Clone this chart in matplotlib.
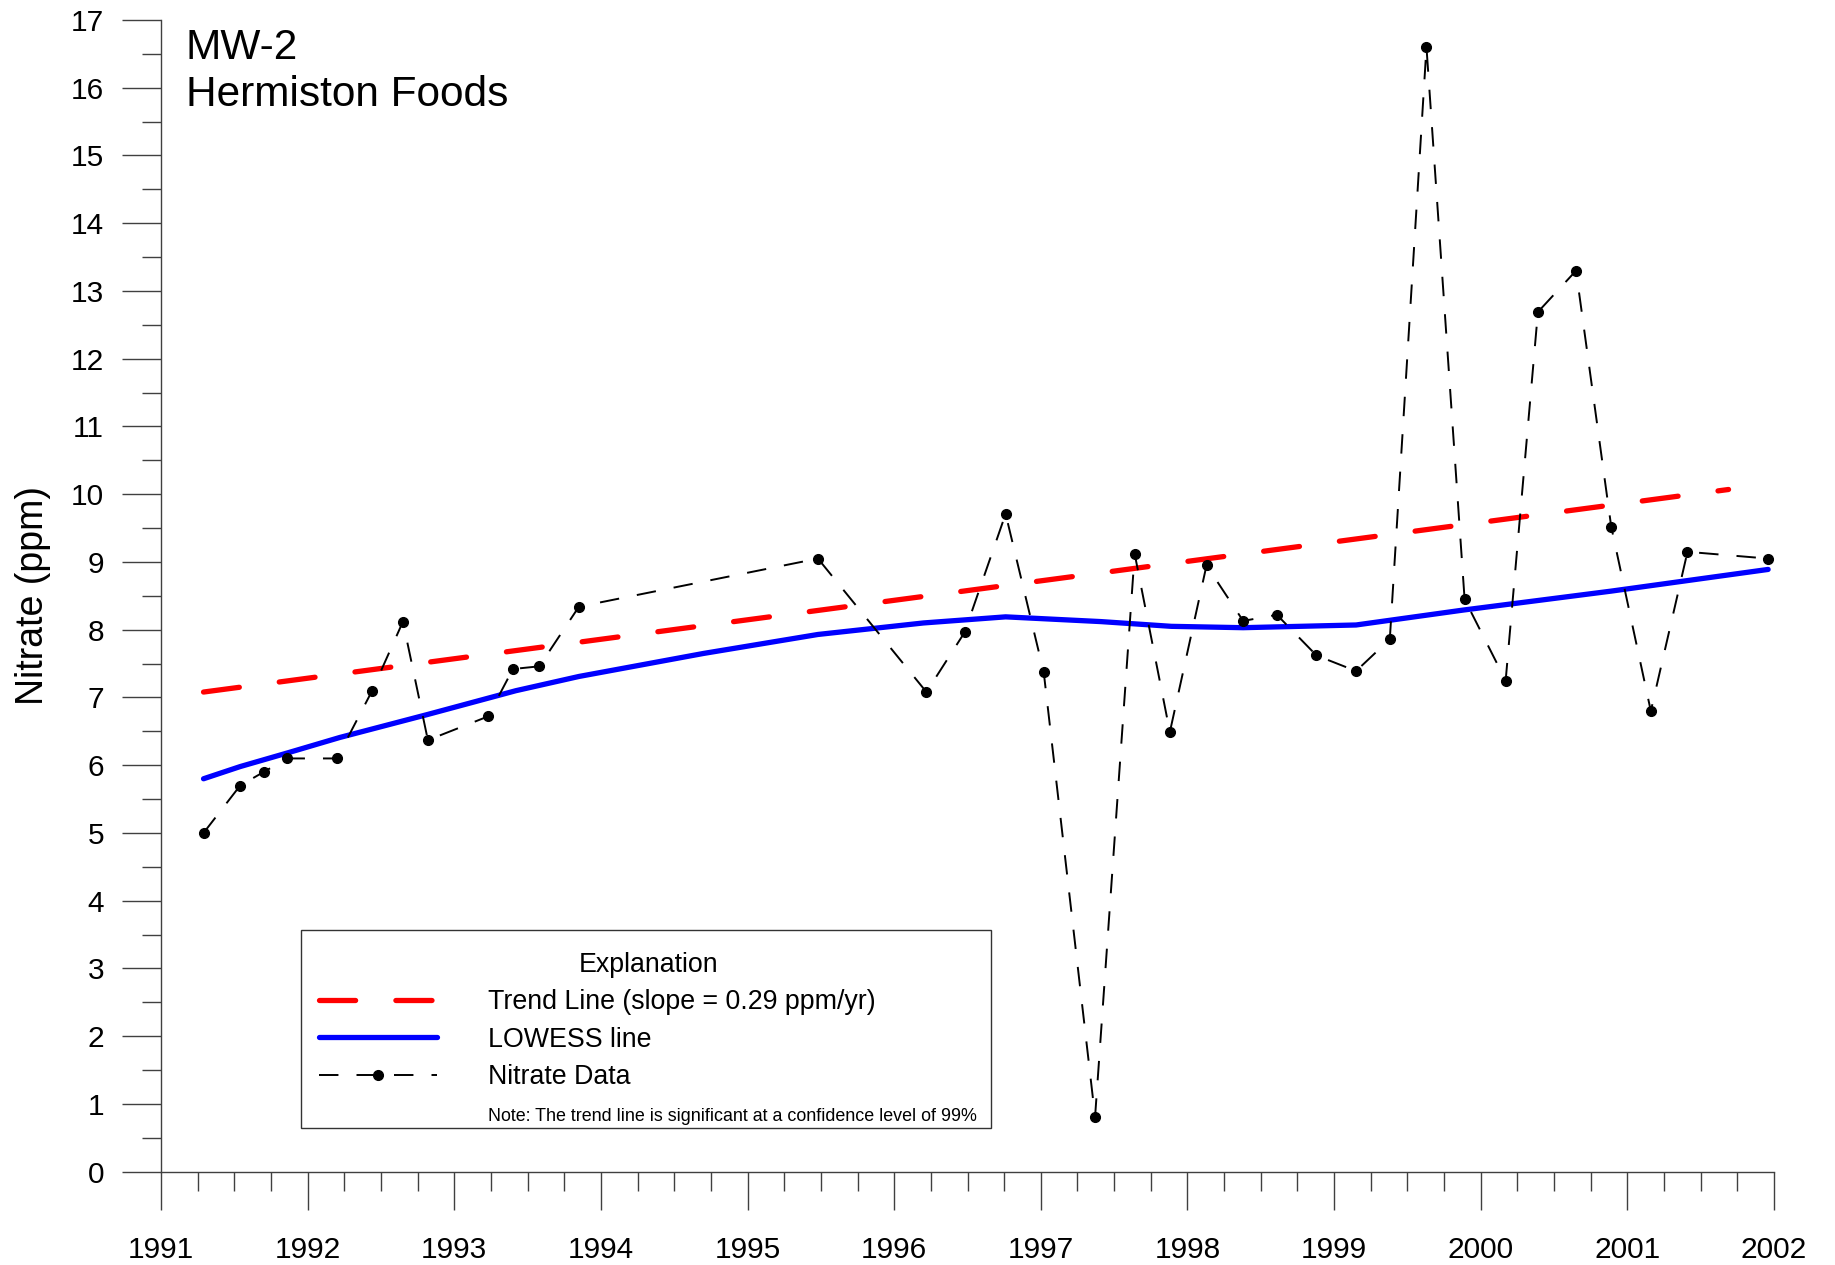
import matplotlib
matplotlib.use("Agg")
import matplotlib.pyplot as plt
from matplotlib.lines import Line2D
from matplotlib.patches import Rectangle
from matplotlib.ticker import MultipleLocator

plt.rcParams['font.family'] = ['Liberation Sans', 'DejaVu Sans']
plt.rcParams['lines.scale_dashes'] = False

# ---- data (decimal years, ppm) ----
sample_year = [1991.29, 1991.54, 1991.70, 1991.86, 1992.20, 1992.44, 1992.65, 1992.82,
               1993.23, 1993.40, 1993.58, 1993.85, 1995.48, 1996.22, 1996.48, 1996.76,
               1997.02, 1997.37, 1997.64, 1997.88, 1998.13, 1998.38, 1998.61, 1998.88,
               1999.15, 1999.38, 1999.63, 1999.89, 2000.17, 2000.39, 2000.65, 2000.89,
               2001.16, 2001.41, 2001.96]
nitrate = [5.0, 5.7, 5.9, 6.1, 6.1, 7.1, 8.12, 6.37,
           6.72, 7.42, 7.46, 8.34, 9.05, 7.08, 7.96, 9.71,
           7.37, 0.81, 9.12, 6.49, 8.95, 8.13, 8.22, 7.62,
           7.39, 7.86, 16.6, 8.45, 7.25, 12.69, 13.3, 9.52,
           6.80, 9.15, 9.05]

lowess_year = [1991.29, 1991.54, 1991.86, 1992.22, 1992.82, 1993.42, 1993.85, 1994.70,
               1995.48, 1996.20, 1996.76, 1997.41, 1997.89, 1998.38, 1999.15, 1999.88,
               2000.89, 2001.96]
lowess_val = [5.80, 5.98, 6.18, 6.41, 6.75, 7.10, 7.31, 7.65,
              7.93, 8.10, 8.19, 8.12, 8.05, 8.03, 8.07, 8.29,
              8.57, 8.89]

trend_year = [1991.29, 2001.69]
trend_val = [7.08, 10.07]

x_ticks = list(range(1991, 2003))
y_ticks = list(range(0, 18))

W, H = 1835, 1265
fig = plt.figure(figsize=(W / 100, H / 100), dpi=100)
x0, x1 = 161.0, 1774.0
y0, y1 = 1171.7, 20.0
ax = fig.add_axes([x0 / W, 1 - y0 / H, (x1 - x0) / W, (y0 - y1) / H])

ax.set_xlim(1991, 2002)
ax.set_ylim(0, 17)

for s in ['top', 'right']:
    ax.spines[s].set_visible(False)
for s in ['left', 'bottom']:
    ax.spines[s].set_color('#404040')
    ax.spines[s].set_linewidth(1.0)

ax.set_xticks(x_ticks)
ax.set_yticks(y_ticks)
ax.xaxis.set_minor_locator(MultipleLocator(0.25))
ax.yaxis.set_minor_locator(MultipleLocator(0.5))
ax.tick_params(axis='both', which='major', direction='out', color='#404040', width=1.0,
               labelsize=21.5)
ax.tick_params(axis='x', which='major', length=27, pad=19.5)
ax.tick_params(axis='x', which='minor', length=14, color='#404040', width=1.0)
ax.tick_params(axis='y', which='major', length=28, pad=13)
ax.tick_params(axis='y', which='minor', length=14, color='#404040', width=1.0)

ax.set_ylabel('Nitrate (ppm)', fontsize=27, labelpad=14.5)

# trend line
tl, = ax.plot(trend_year, trend_val, color='#ff0000', lw=3.8, dash_capstyle='round',
              solid_capstyle='round', zorder=3)
tl.set_dashes((26, 29))

# LOWESS
ll, = ax.plot(lowess_year, lowess_val, color='#0000ff', lw=3.8, solid_capstyle='round',
              zorder=3)

# nitrate data
dl, = ax.plot(sample_year, nitrate, color='black', lw=1.4, marker='o', markersize=7,
              zorder=4)
dl.set_dashes((14, 13))

# title text
ax.text(1991.17, 16.43, 'MW-2', fontsize=30.5, va='baseline', ha='left')
ax.text(1991.17, 15.73, 'Hermiston Foods', fontsize=30.5, va='baseline', ha='left')

# legend box
box = Rectangle((301 / W, 1 - 1128 / H), 690 / W, 198 / H, transform=fig.transFigure,
                facecolor='white', edgecolor='#333333', linewidth=1.0, zorder=5,
                clip_on=False)
ax.add_patch(box)

h_trend = Line2D([], [], color='#ff0000', lw=3.8, dash_capstyle='round')
h_trend.set_dashes((26, 29))
h_low = Line2D([], [], color='#0000ff', lw=3.8, solid_capstyle='round')
h_dat = Line2D([], [], color='black', lw=1.4, marker='o', markersize=7)
h_dat.set_dashes((14, 13))
h_note = Line2D([], [], color='none')
leg = ax.legend([h_trend, h_low, h_dat, h_note],
                ['Trend Line (slope = 0.29 ppm/yr)', 'LOWESS line', 'Nitrate Data',
                 'Note: The trend line is significant at a confidence level of 99%'],
                title='Explanation', fontsize=19.3, title_fontsize=19.3,
                loc='upper left', bbox_to_anchor=(301 / W, 1 - 933.5 / H),
                bbox_transform=fig.transFigure, borderaxespad=0,
                handlelength=4.4, handletextpad=1.9, labelspacing=0.43,
                borderpad=0.68, frameon=False, numpoints=1)
leg.set_zorder(7)
leg.get_texts()[3].set_fontsize(12.9)

fig.savefig('out.png', dpi=100)
